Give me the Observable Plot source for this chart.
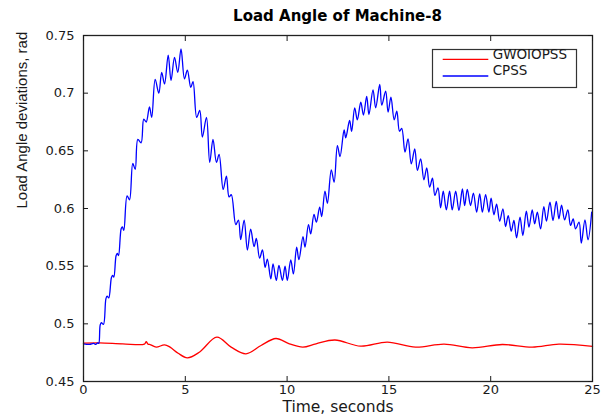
<!DOCTYPE html>
<html>
<head>
<meta charset="utf-8">
<script src="https://cdn.jsdelivr.net/npm/d3@7"></script>
<script src="https://cdn.jsdelivr.net/npm/@observablehq/plot@0.6"></script>
<style>
  html, body { margin: 0; padding: 0; background: #fff; }
  #wrap { position: relative; width: 611px; height: 416px; overflow: hidden; background: #fff; }
  #title { height: 26px; box-sizing: border-box; padding: 9px 19px 0 83px; text-align: center;
           font: bold 15px "DejaVu Sans"; line-height: 15px; color: #000; white-space: nowrap; }
  #legend { position: absolute; left: 432px; top: 45px; overflow: visible; }
</style>
</head>
<body>
<div id="wrap">
  <div id="title"></div>
  <div id="chart"></div>
  <svg id="legend" width="146" height="44"></svg>
</div>
<script>
const titleText = "Load Angle of Machine-8";
const xLabel = "Time, seconds";
const yLabel = "Load Angle deviations, rad";
const seriesNames = ["GWOIOPSS", "CPSS"];
const seriesColors = ["#ff0000", "#0000ff"];

const xTicks = [0, 5, 10, 15, 20, 25];
const xTickLabels = ["0", "5", "10", "15", "20", "25"];
const yTicks = [0.45, 0.5, 0.55, 0.6, 0.65, 0.7, 0.75];
const yTickLabels = ["0.45", "0.5", "0.55", "0.6", "0.65", "0.7", "0.75"];

// GWOIOPSS (red)
const gwoTime = [0, 0.78, 1.93, 2.99, 3.08, 3.16, 3.30, 3.57, 3.98, 4.25, 4.65, 5.10, 5.69, 6.55, 7.25, 7.98, 8.72, 9.45, 10.11, 10.77, 11.42, 12.35, 13.61, 14.92, 16.31, 17.71, 19.09, 20.57, 22.04, 23.35, 25.0];
const gwoAngle = [0.4832, 0.4835, 0.4827, 0.4824, 0.4846, 0.4826, 0.4818, 0.4798, 0.4818, 0.4798, 0.4745, 0.4705, 0.4754, 0.4884, 0.4798, 0.4740, 0.4812, 0.4873, 0.4827, 0.4798, 0.4827, 0.4860, 0.4806, 0.4841, 0.4798, 0.4824, 0.4792, 0.4821, 0.4798, 0.4824, 0.4804];

// CPSS (blue)
const cpssTime = [0, 0.3, 0.5, 0.6, 0.7, 0.75, 0.82, 0.88, 0.98, 1.10, 1.16, 1.24, 1.37, 1.43, 1.49, 1.60, 1.66, 1.72, 1.85, 1.91, 1.98,
  2.14, 2.26, 2.42, 2.54, 2.67, 2.83, 2.96, 3.08, 3.24, 3.35, 3.52, 3.70, 3.84, 3.98, 4.16, 4.30, 4.47, 4.63, 4.79, 4.96,
  5.10, 5.27, 5.38, 5.56, 5.71, 5.84, 6.04, 6.20, 6.36, 6.53, 6.66, 6.86, 7.02, 7.15, 7.26, 7.48, 7.61, 7.72, 7.89,
  8.05, 8.21, 8.38, 8.49, 8.65, 8.79, 8.92, 9.03, 9.20, 9.31, 9.47, 9.60, 9.77, 9.90, 10.01,
  10.18, 10.31, 10.47, 10.58, 10.78, 10.88, 11.05, 11.16, 11.32, 11.44, 11.60, 11.70, 11.86, 11.98, 12.17, 12.31, 12.47, 12.60, 12.80, 12.88,
  13.07, 13.17, 13.32, 13.45, 13.62, 13.75, 13.91, 14.02, 14.22, 14.35, 14.55, 14.65, 14.84, 14.96,
  15.10, 15.26, 15.39, 15.52, 15.63, 15.79, 15.94, 16.10, 16.27, 16.40, 16.56, 16.72, 16.86, 17.00, 17.14, 17.26, 17.41, 17.54, 17.67, 17.82, 17.98,
  18.11, 18.28, 18.44, 18.61, 18.72, 18.85, 19.01, 19.15, 19.31, 19.46, 19.59, 19.75, 19.91,
  20.02, 20.16, 20.29, 20.44, 20.60, 20.73, 20.86, 21.01, 21.14, 21.27, 21.44, 21.58, 21.75, 21.88,
  22.04, 22.16, 22.29, 22.45, 22.61, 22.74, 22.91, 23.06, 23.22, 23.35, 23.48, 23.63, 23.79, 23.92,
  24.05, 24.17, 24.34, 24.45, 24.63, 24.78, 24.96];
const cpssAngle = [0.4827, 0.4822, 0.4830, 0.4822, 0.4835, 0.4830, 0.4990, 0.5010, 0.4995, 0.5217, 0.5240, 0.5225, 0.5400, 0.5420, 0.5405, 0.5590, 0.5610, 0.5592, 0.5824, 0.5840, 0.5810,
  0.6110, 0.6075, 0.6390, 0.6340, 0.6600, 0.6570, 0.6775, 0.6750, 0.6880, 0.6790, 0.7120, 0.7000, 0.7180, 0.7080, 0.7330, 0.7110, 0.7310, 0.7180, 0.7384, 0.7124,
  0.7200, 0.7050, 0.7100, 0.6790, 0.6850, 0.6620, 0.6790, 0.6400, 0.6600, 0.6400, 0.6470, 0.6165, 0.6280, 0.6100, 0.6120, 0.5860, 0.5900, 0.5730, 0.5900,
  0.5640, 0.5820, 0.5670, 0.5740, 0.5570, 0.5640, 0.5490, 0.5560, 0.5390, 0.5520, 0.5376, 0.5506, 0.5376, 0.5500, 0.5376,
  0.5555, 0.5433, 0.5665, 0.5556, 0.5757, 0.5665, 0.5861, 0.5780, 0.5948, 0.5882, 0.6012, 0.5930, 0.6150, 0.6046, 0.6335, 0.6228, 0.6546, 0.6450, 0.6682, 0.6613,
  0.6763, 0.6668, 0.6873, 0.6769, 0.6922, 0.6810, 0.6971, 0.6815, 0.7029, 0.6873, 0.7075, 0.6896, 0.7017, 0.6835,
  0.6965, 0.6769, 0.6844, 0.6670, 0.6694, 0.6488, 0.6604, 0.6387, 0.6517, 0.6330, 0.6430, 0.6249, 0.6353, 0.6185, 0.6263, 0.6113, 0.6179, 0.6006, 0.6150, 0.5988, 0.6150,
  0.5988, 0.6150, 0.5983, 0.6170, 0.6026, 0.6165, 0.6026, 0.6133, 0.5968, 0.6127, 0.5968, 0.6121, 0.5968,
  0.6090, 0.5946, 0.6038, 0.5890, 0.5997, 0.5844, 0.5939, 0.5803, 0.5896, 0.5746, 0.5925, 0.5766, 0.5977, 0.5838,
  0.5988, 0.5867, 0.5968, 0.5824, 0.6017, 0.5890, 0.6055, 0.5896, 0.6061, 0.5910, 0.6030, 0.5902, 0.5988, 0.5853,
  0.5910, 0.5824, 0.5882, 0.5699, 0.5902, 0.5728, 0.5968];

const gwo = gwoTime.map((t, i) => ({t, v: gwoAngle[i]}));
const cpss = cpssTime.map((t, i) => ({t, v: cpssAngle[i]}));

document.getElementById("title").textContent = titleText;

const chart = Plot.plot({
  width: 611,
  height: 390,
  marginTop: 9,
  marginBottom: 35,
  marginLeft: 83,
  marginRight: 19,
  style: {fontFamily: "DejaVu Sans", fontSize: "13px", color: "#1a1a1a", background: "#fff"},
  x: {domain: [0, 25]},
  y: {domain: [0.45, 0.75]},
  marks: [
    Plot.line(gwo, {x: "t", y: "v", stroke: seriesColors[0], strokeWidth: 1.3, curve: "catmull-rom"}),
    Plot.line(cpss, {x: "t", y: "v", stroke: seriesColors[1], strokeWidth: 1.3, curve: "catmull-rom"}),
    Plot.frame({stroke: "#222", strokeWidth: 1.3}),
    Plot.axisX({ticks: xTicks, tickSize: -5, tickPadding: 8, label: null, fontSize: 13,
      tickFormat: d => xTickLabels[xTicks.indexOf(d)]}),
    Plot.axisX({anchor: "top", ticks: xTicks, tickSize: -5, label: null, tickFormat: () => ""}),
    Plot.axisY({ticks: yTicks, tickSize: -5, tickPadding: 14, label: null, fontSize: 13,
      tickFormat: d => yTickLabels[yTicks.indexOf(d)]}),
    Plot.axisY({anchor: "right", ticks: yTicks, tickSize: -5, label: null, tickFormat: () => ""}),
    Plot.text([yLabel], {text: d => d, frameAnchor: "left", dx: -61, rotate: -90,
      fontSize: 15, fontFamily: "Liberation Sans", fill: "#1a1a1a"}),
    Plot.text([xLabel], {text: d => d, frameAnchor: "bottom", dy: 26, lineAnchor: "middle",
      fontSize: 15.5, fontFamily: "DejaVu Sans", fill: "#1a1a1a"})
  ]
});
document.getElementById("chart").appendChild(chart);

// legend (drawn 4px lower inside its svg so the first label is not clipped)
const off = 4;
const lg = d3.select("#legend");
lg.append("rect").attr("x", 0.5).attr("y", off + 0.5).attr("width", 144).attr("height", 38)
  .attr("fill", "#fff").attr("stroke", "#333").attr("stroke-width", 1.2);
seriesNames.forEach((name, i) => {
  const ly = off + [10.3, 27][i];
  lg.append("line").attr("x1", 10.7).attr("x2", 56.3).attr("y1", ly).attr("y2", ly)
    .attr("stroke", seriesColors[i]).attr("stroke-width", 1.3);
  lg.append("text").attr("x", 60.7).attr("y", off + [9.8, 26.2][i]).text(name)
    .attr("font-family", "DejaVu Sans").attr("font-size", 13.5).attr("fill", "#1a1a1a");
});
</script>
</body>
</html>
